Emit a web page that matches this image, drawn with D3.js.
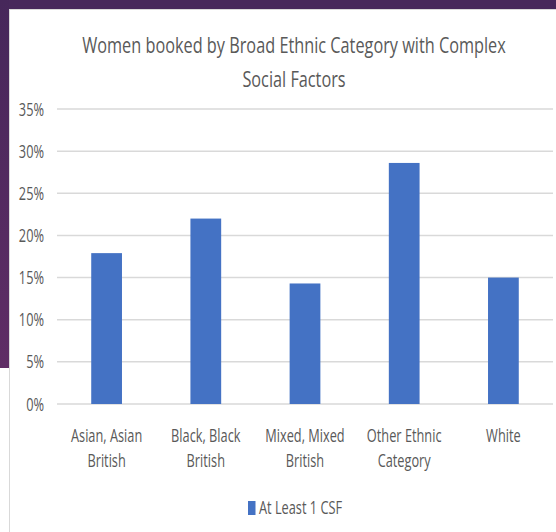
<!DOCTYPE html>
<html>
<head>
<meta charset="utf-8">
<script src="https://cdn.jsdelivr.net/npm/d3@7"></script>
<style>
  html, body { margin: 0; padding: 0; background: #ffffff; }
  svg { display: block; }
  text { font-family: "Open Sans", "Noto Sans", sans-serif; fill: #595959; }
</style>
</head>
<body>
<svg id="chart" width="556" height="532"></svg>
<script>
// Share of women booked with at least one complex social factor, by broad ethnic category
const categories = [
  ["Asian, Asian", "British"],
  ["Black, Black", "British"],
  ["Mixed, Mixed", "British"],
  ["Other Ethnic", "Category"],
  ["White"]
];
const atLeastOneCSF = [17.9, 22.0, 14.3, 28.6, 15.0];
const yTicks = [0, 5, 10, 15, 20, 25, 30, 35];
const titleLines = ["Women booked by Broad Ethnic Category with Complex", "Social Factors"];
const seriesName = "At Least 1 CSF";

const W = 556, H = 532;
const svg = d3.select("#chart");
const sx = 0.71; // horizontal squeeze for the narrow lettering

// Slide backdrop: purple band on the top and left edges
const defs = svg.append("defs");
const grad = defs.append("linearGradient").attr("id", "side")
  .attr("x1", 0).attr("y1", 0).attr("x2", 0).attr("y2", 1);
grad.append("stop").attr("offset", "0%").attr("stop-color", "#46275a");
grad.append("stop").attr("offset", "100%").attr("stop-color", "#5f2d65");

svg.append("rect").attr("x", 0).attr("y", 0).attr("width", W).attr("height", 9).attr("fill", "#47285b");
svg.append("rect").attr("x", 0).attr("y", 0).attr("width", 9).attr("height", 368).attr("fill", "url(#side)");

// Chart area with thin border
svg.append("rect").attr("x", 9.5).attr("y", 9.5).attr("width", W).attr("height", H)
  .attr("fill", "#ffffff").attr("stroke", "#d9d9d9").attr("stroke-width", 1);

const plot = { left: 57, right: 553, top: 109, bottom: 404 };

const x = d3.scaleBand()
  .domain(d3.range(categories.length))
  .range([plot.left, plot.right])
  .paddingInner(0.69)
  .paddingOuter(0.345);

const y = d3.scaleLinear().domain([0, 35]).range([plot.bottom, plot.top]);

// Horizontal gridlines
svg.append("g").selectAll("line").data(yTicks).join("line")
  .attr("x1", plot.left).attr("x2", plot.right)
  .attr("y1", d => y(d)).attr("y2", d => y(d))
  .attr("stroke", "#d9d9d9").attr("stroke-width", 1.5);

// Y tick labels
svg.append("g").selectAll("text").data(yTicks).join("text")
  .attr("transform", d => `translate(44,${y(d) + 6.5}) scale(${sx},1)`)
  .attr("text-anchor", "end")
  .attr("font-size", 18)
  .text(d => d + "%");

// Bars
svg.append("g").selectAll("rect").data(atLeastOneCSF).join("rect")
  .attr("x", (d, i) => x(i))
  .attr("width", x.bandwidth())
  .attr("y", d => y(d))
  .attr("height", d => y(0) - y(d))
  .attr("fill", "#4472c4");

// Category labels
const xl = svg.append("g").selectAll("g").data(categories).join("g")
  .attr("transform", (d, i) => `translate(${x(i) + x.bandwidth() / 2},0)`);
xl.selectAll("text").data(d => d).join("text")
  .attr("transform", (d, j) => `translate(0,${442 + j * 25}) scale(${sx},1)`)
  .attr("text-anchor", "middle")
  .attr("font-size", 18)
  .text(d => d);

// Title
svg.append("g").selectAll("text").data(titleLines).join("text")
  .attr("transform", (d, i) => `translate(294,${53 + i * 34}) scale(0.74,1)`)
  .attr("text-anchor", "middle")
  .attr("font-size", 22)
  .text(d => d);

// Legend
const lg = svg.append("g");
lg.append("rect").attr("x", 248).attr("y", 501).attr("width", 7.5).attr("height", 14).attr("fill", "#4472c4");
lg.append("text")
  .attr("transform", `translate(259,514) scale(${sx},1)`)
  .attr("font-size", 18)
  .text(seriesName);
</script>
</body>
</html>
